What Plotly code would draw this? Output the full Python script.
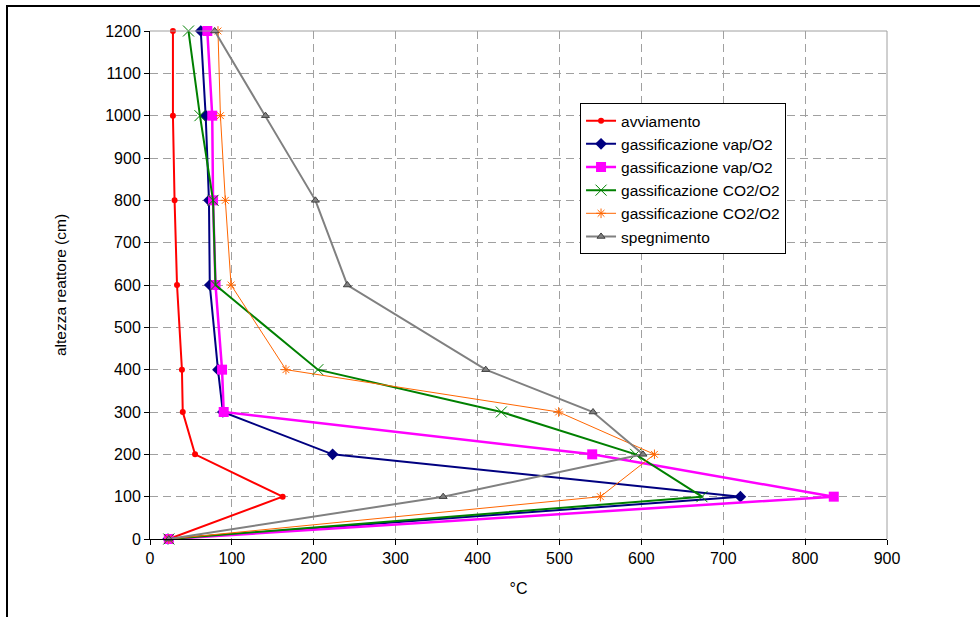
import plotly.graph_objects as go

heights = [1200, 1000, 800, 600, 400, 300, 200, 100, 0]
avviamento = [28, 28, 30, 33, 39, 40, 55, 162, 23]
vap_o2_a = [62, 68, 72, 73, 83, 89, 223, 721, 22]
vap_o2_b = [70, 76, 77, 80, 88, 90, 540, 835, 23]
co2_o2_a = [47, 61, 77, 80, 205, 429, 593, 674, 23]
co2_o2_b = [83, 86, 92, 99, 166, 499, 616, 550, 23]
spegnimento = [79, 141, 202, 241, 410, 541, 602, 358, 23]

names = ["avviamento", "gassificazione vap/O2", "gassificazione vap/O2",
         "gassificazione CO2/O2", "gassificazione CO2/O2", "spegnimento"]
x_ticks = list(range(0, 901, 100))
y_ticks = list(range(0, 1201, 100))

FONT = "Arial, Liberation Sans, sans-serif"

styles = [
    dict(color="#FF0000", width=2, symbol="circle", size=6, mline=dict(width=0)),
    dict(color="#000080", width=2, symbol="diamond", size=9, mline=dict(width=0)),
    dict(color="#FF00FF", width=2.5, symbol="square", size=10, mline=dict(width=0)),
    dict(color="#008000", width=2, symbol="x-thin-open", size=11, mline=dict(width=1, color="#008000")),
    dict(color="#FF6600", width=1, symbol="asterisk-open", size=8, mline=dict(width=1, color="#FF6600")),
    dict(color="#808080", width=2, symbol="triangle-up", size=7, mline=dict(width=1, color="#404040")),
]
series = [avviamento, vap_o2_a, vap_o2_b, co2_o2_a, co2_o2_b, spegnimento]

fig = go.Figure()
for i, (nm, vals, st) in enumerate(zip(names, series, styles)):
    fig.add_trace(go.Scatter(
        x=vals, y=heights, name=nm, mode="lines+markers",
        legendgroup=f"g{i}",
        line=dict(color=st["color"], width=st["width"]),
        marker=dict(symbol=st["symbol"], size=st["size"], color=st["color"], line=st["mline"]),
        cliponaxis=False,
    ))

fig.update_layout(
    width=980, height=617,
    margin=dict(l=150, r=93, t=31, b=78),
    paper_bgcolor="white", plot_bgcolor="white",
    font=dict(family=FONT, size=15, color="black"),
    showlegend=True,
    legend=dict(
        x=0.5835, y=0.858, xanchor="left", yanchor="top",
        bgcolor="white", bordercolor="black", borderwidth=1,
        font=dict(family=FONT, size=15.5, color="black"),
        traceorder="grouped", tracegroupgap=0,
    ),
    xaxis=dict(
        range=[0, 900], tickvals=x_ticks, ticktext=[str(v) for v in x_ticks],
        showgrid=True, gridcolor="#A0A0A0", griddash="8px,5px", gridwidth=1,
        showline=True, linecolor="black", linewidth=1,
        ticks="outside", ticklen=5, tickcolor="black",
        zeroline=False,
        title=dict(text="°C", standoff=16, font=dict(size=16)),
        tickfont=dict(size=16),
    ),
    yaxis=dict(
        range=[0, 1200], tickvals=y_ticks, ticktext=[str(v) for v in y_ticks],
        showgrid=True, gridcolor="#A0A0A0", griddash="8px,5px", gridwidth=1,
        showline=True, linecolor="black", linewidth=1,
        ticks="outside", ticklen=5, tickcolor="black",
        zeroline=False,
        title=dict(text="altezza reattore (cm)", standoff=34, font=dict(size=15.5)),
        tickfont=dict(size=16),
    ),
    shapes=[
        dict(type="line", xref="paper", yref="paper", x0=0, x1=1, y0=1, y1=1,
             line=dict(color="#A0A0A0", width=1)),
        dict(type="line", xref="paper", yref="paper", x0=1, x1=1, y0=0, y1=1,
             line=dict(color="#A0A0A0", width=1)),
        dict(type="rect", xref="paper", yref="paper",
             x0=(7 - 150) / 737, x1=2, y0=-1, y1=(539 - 6) / 508,
             line=dict(color="black", width=2), layer="above"),
    ],
)

fig.write_html("out.html", config={"displayModeBar": False},
               post_script="document.body.style.margin='0';document.body.style.overflow='hidden';")
